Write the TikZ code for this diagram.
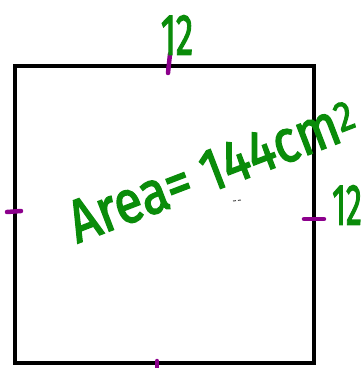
\documentclass[tikz,border=0pt]{standalone}
\usepackage{fontspec}
\setmainfont{Fira Sans}
\newfontfamily\hand{Fira Sans}[FakeBold=2.5]
\definecolor{hgreen}{RGB}{10,140,10}
\definecolor{hpurple}{RGB}{140,0,140}
\tikzset{
  sq/.style={line width=4pt, black, line join=miter},
  tick/.style={line width=4.5pt, hpurple, line cap=round},
  lbl/.style={text=hgreen, inner sep=0pt, font=\hand\fontsize{58}{58}\selectfont},
  arealbl/.style={text=hgreen, inner sep=0pt, font=\hand\fontsize{60}{60}\selectfont},
}
\begin{document}
\begin{tikzpicture}[x=1pt,y=-1pt]
\useasboundingbox (0,0) rectangle (361,368);
\coordinate (tl) at (15,66);
\coordinate (tr) at (314,66);
\coordinate (br) at (314,363);
\coordinate (bl) at (15,363);
\draw[sq] (tl) -- (tr) -- (br) -- (bl) -- cycle;
% ticks
\coordinate (t1) at (170,54); \coordinate (t2) at (168,73);
\draw[tick] (t1) -- (t2);
\coordinate (l1) at (7,212); \coordinate (l2) at (21,211);
\draw[tick] (l1) -- (l2);
\coordinate (r1) at (304,219); \coordinate (r2) at (324,219);
\draw[tick] (r1) -- (r2);
\coordinate (b1) at (157,361); \coordinate (b2) at (157,370);
\draw[tick] (b1) -- (b2);
% labels
\node[lbl] (top) at (177,35) {\scalebox{0.6}[1]{12}};
\node[lbl] (right) at (347,205) {\scalebox{0.55}[1]{12}};
\node[arealbl, rotate=21] (area) at (212,170) {\scalebox{0.85}[1]{Area= 144cm\textsuperscript{2}}};
% small mark
\coordinate (m1) at (233,201); \coordinate (m2) at (241,200);
\draw[line width=1pt, black!70, dashed, dash pattern=on 3pt off 2pt] (m1) -- (m2);
\end{tikzpicture}
\end{document}
